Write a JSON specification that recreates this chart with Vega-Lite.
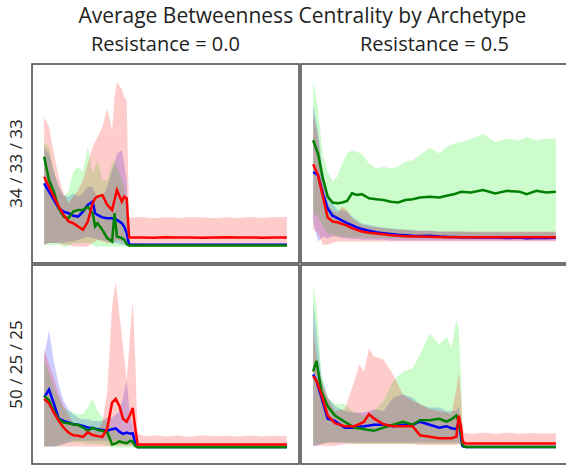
{
"$schema": "https://vega.github.io/schema/vega-lite/v6.json",
"padding": {"left": 7, "top": 6, "right": 0, "bottom": 0},
"title": {"text": "Average Betweenness Centrality by Archetype", "font": "Open Sans", "fontSize": 21, "fontWeight": "normal", "color": "#222", "anchor": "middle", "offset": 8, "dx": 14},
"datasets": {"d": [
{"r":"34 / 33 / 33","c":"Resistance = 0.0","t":0,"bm":38,"bl":1,"bh":60,"gm":54,"gl":1,"gh":63,"rm":42,"rl":1,"rh":78},
{"r":"34 / 33 / 33","c":"Resistance = 0.0","t":2,"bm":33,"bl":2,"bh":56,"gm":40,"gl":1,"gh":60,"rm":36,"rl":2,"rh":72},
{"r":"34 / 33 / 33","c":"Resistance = 0.0","t":4,"bm":28,"bl":2,"bh":45,"gm":33,"gl":1,"gh":46,"rm":30,"rl":2,"rh":56},
{"r":"34 / 33 / 33","c":"Resistance = 0.0","t":6,"bm":23,"bl":2,"bh":36,"gm":23,"gl":1,"gh":36,"rm":24,"rl":2,"rh":42},
{"r":"34 / 33 / 33","c":"Resistance = 0.0","t":8,"bm":21,"bl":2,"bh":31,"gm":18,"gl":0,"gh":30,"rm":19,"rl":1,"rh":32},
{"r":"34 / 33 / 33","c":"Resistance = 0.0","t":10,"bm":20,"bl":3,"bh":30,"gm":17,"gl":0,"gh":33,"rm":15,"rl":1,"rh":26},
{"r":"34 / 33 / 33","c":"Resistance = 0.0","t":12,"bm":18.5,"bl":3,"bh":32,"gm":21,"gl":2,"gh":45,"rm":14,"rl":0,"rh":30},
{"r":"34 / 33 / 33","c":"Resistance = 0.0","t":14,"bm":18,"bl":4,"bh":30,"gm":22,"gl":2,"gh":48,"rm":12,"rl":0,"rh":34},
{"r":"34 / 33 / 33","c":"Resistance = 0.0","t":16,"bm":21,"bl":5,"bh":32,"gm":22,"gl":2,"gh":45,"rm":10,"rl":0,"rh":40},
{"r":"34 / 33 / 33","c":"Resistance = 0.0","t":18,"bm":25,"bl":6,"bh":36,"gm":24,"gl":2,"gh":60,"rm":15,"rl":0,"rh":50},
{"r":"34 / 33 / 33","c":"Resistance = 0.0","t":20,"bm":27,"bl":5,"bh":36,"gm":20,"gl":1,"gh":44,"rm":26,"rl":2,"rh":60},
{"r":"34 / 33 / 33","c":"Resistance = 0.0","t":21,"bm":20,"bl":5,"bh":32,"gm":12,"gl":0,"gh":48,"rm":29,"rl":3,"rh":63},
{"r":"34 / 33 / 33","c":"Resistance = 0.0","t":22,"bm":19,"bl":4,"bh":30,"gm":14,"gl":0,"gh":52,"rm":30,"rl":4,"rh":66},
{"r":"34 / 33 / 33","c":"Resistance = 0.0","t":24,"bm":17.5,"bl":4,"bh":30,"gm":10,"gl":0,"gh":40,"rm":31,"rl":3,"rh":72},
{"r":"34 / 33 / 33","c":"Resistance = 0.0","t":26,"bm":17,"bl":3,"bh":36,"gm":5,"gl":0,"gh":40,"rm":25,"rl":2,"rh":83},
{"r":"34 / 33 / 33","c":"Resistance = 0.0","t":28,"bm":17,"bl":2,"bh":46,"gm":3,"gl":0,"gh":50,"rm":22,"rl":2,"rh":70},
{"r":"34 / 33 / 33","c":"Resistance = 0.0","t":29,"bm":16.5,"bl":2,"bh":50,"gm":20,"gl":0,"gh":52,"rm":28,"rl":3,"rh":90},
{"r":"34 / 33 / 33","c":"Resistance = 0.0","t":30,"bm":16,"bl":2,"bh":56,"gm":6,"gl":0,"gh":48,"rm":34,"rl":4,"rh":99},
{"r":"34 / 33 / 33","c":"Resistance = 0.0","t":32,"bm":14,"bl":1,"bh":58,"gm":5,"gl":0,"gh":40,"rm":27,"rl":3,"rh":95},
{"r":"34 / 33 / 33","c":"Resistance = 0.0","t":33,"bm":12,"bl":1,"bh":50,"gm":4,"gl":0,"gh":35,"rm":30,"rl":3,"rh":90},
{"r":"34 / 33 / 33","c":"Resistance = 0.0","t":34,"bm":8,"bl":0,"bh":40,"gm":1.5,"gl":0,"gh":25,"rm":29,"rl":3,"rh":88},
{"r":"34 / 33 / 33","c":"Resistance = 0.0","t":35,"bm":1.2,"bl":0,"bh":2,"gm":0.5,"gl":0,"gh":1,"rm":5.4,"rl":0,"rh":17.4},
{"r":"34 / 33 / 33","c":"Resistance = 0.0","t":40,"bm":1,"bl":0,"bh":1.8,"gm":0.5,"gl":0,"gh":1,"rm":5.4,"rl":0,"rh":17.8},
{"r":"34 / 33 / 33","c":"Resistance = 0.0","t":45,"bm":1,"bl":0,"bh":1.8,"gm":0.5,"gl":0,"gh":1,"rm":5.3,"rl":0,"rh":17},
{"r":"34 / 33 / 33","c":"Resistance = 0.0","t":50,"bm":1,"bl":0,"bh":1.8,"gm":0.5,"gl":0,"gh":1,"rm":5.5,"rl":0,"rh":17.6},
{"r":"34 / 33 / 33","c":"Resistance = 0.0","t":55,"bm":1,"bl":0,"bh":1.8,"gm":0.5,"gl":0,"gh":1,"rm":5.4,"rl":0,"rh":17.2},
{"r":"34 / 33 / 33","c":"Resistance = 0.0","t":60,"bm":1,"bl":0,"bh":1.8,"gm":0.5,"gl":0,"gh":1,"rm":5.4,"rl":0,"rh":17.8},
{"r":"34 / 33 / 33","c":"Resistance = 0.0","t":65,"bm":1,"bl":0,"bh":1.8,"gm":0.5,"gl":0,"gh":1,"rm":5.3,"rl":0,"rh":17.4},
{"r":"34 / 33 / 33","c":"Resistance = 0.0","t":70,"bm":1,"bl":0,"bh":1.8,"gm":0.5,"gl":0,"gh":1,"rm":5.4,"rl":0,"rh":17},
{"r":"34 / 33 / 33","c":"Resistance = 0.0","t":75,"bm":1,"bl":0,"bh":1.8,"gm":0.5,"gl":0,"gh":1,"rm":5.5,"rl":0,"rh":17.6},
{"r":"34 / 33 / 33","c":"Resistance = 0.0","t":80,"bm":1,"bl":0,"bh":1.8,"gm":0.5,"gl":0,"gh":1,"rm":5.4,"rl":0,"rh":17.2},
{"r":"34 / 33 / 33","c":"Resistance = 0.0","t":85,"bm":1,"bl":0,"bh":1.8,"gm":0.5,"gl":0,"gh":1,"rm":5.4,"rl":0,"rh":17.8},
{"r":"34 / 33 / 33","c":"Resistance = 0.0","t":90,"bm":1,"bl":0,"bh":1.8,"gm":0.5,"gl":0,"gh":1,"rm":5.3,"rl":0,"rh":17.2},
{"r":"34 / 33 / 33","c":"Resistance = 0.0","t":95,"bm":1,"bl":0,"bh":1.8,"gm":0.5,"gl":0,"gh":1,"rm":5.4,"rl":0,"rh":17.8},
{"r":"34 / 33 / 33","c":"Resistance = 0.0","t":100,"bm":1,"bl":0,"bh":1.8,"gm":0.5,"gl":0,"gh":1,"rm":5.4,"rl":0,"rh":17.6},

{"r":"34 / 33 / 33","c":"Resistance = 0.5","t":0,"bm":44.9,"bl":15,"bh":86,"gm":64,"gl":20,"gh":100,"rm":49.5,"rl":10,"rh":80},
{"r":"34 / 33 / 33","c":"Resistance = 0.5","t":2,"bm":43,"bl":3,"bh":70,"gm":56,"gl":18,"gh":83,"rm":43,"rl":8,"rh":66},
{"r":"34 / 33 / 33","c":"Resistance = 0.5","t":4,"bm":32,"bl":6,"bh":45,"gm":41,"gl":12,"gh":55,"rm":30.2,"rl":1,"rh":40},
{"r":"34 / 33 / 33","c":"Resistance = 0.5","t":6,"bm":22.9,"bl":5,"bh":32,"gm":30,"gl":8,"gh":45,"rm":17.4,"rl":1,"rh":26},
{"r":"34 / 33 / 33","c":"Resistance = 0.5","t":8,"bm":18.5,"bl":6,"bh":26,"gm":26.5,"gl":7,"gh":39.5,"rm":15,"rl":2,"rh":22},
{"r":"34 / 33 / 33","c":"Resistance = 0.5","t":10,"bm":17,"bl":6,"bh":22,"gm":26,"gl":6,"gh":42,"rm":14.6,"rl":3,"rh":20},
{"r":"34 / 33 / 33","c":"Resistance = 0.5","t":12,"bm":15.5,"bl":5,"bh":22,"gm":26.5,"gl":6,"gh":50,"rm":13.5,"rl":3,"rh":24},
{"r":"34 / 33 / 33","c":"Resistance = 0.5","t":14,"bm":14,"bl":5,"bh":21,"gm":27.4,"gl":5.5,"gh":56,"rm":12.5,"rl":3,"rh":22},
{"r":"34 / 33 / 33","c":"Resistance = 0.5","t":16,"bm":12.8,"bl":4.5,"bh":18,"gm":32,"gl":5.5,"gh":58,"rm":11,"rl":3,"rh":17},
{"r":"34 / 33 / 33","c":"Resistance = 0.5","t":18,"bm":11.5,"bl":4.5,"bh":16,"gm":31,"gl":5.5,"gh":57,"rm":10,"rl":3,"rh":15},
{"r":"34 / 33 / 33","c":"Resistance = 0.5","t":20,"bm":10.5,"bl":4,"bh":14,"gm":31.5,"gl":5.5,"gh":56,"rm":9,"rl":3,"rh":13},
{"r":"34 / 33 / 33","c":"Resistance = 0.5","t":23,"bm":9.5,"bl":4,"bh":13,"gm":29,"gl":5,"gh":50,"rm":8.2,"rl":3,"rh":12},
{"r":"34 / 33 / 33","c":"Resistance = 0.5","t":26,"bm":8.5,"bl":4,"bh":12,"gm":28.5,"gl":5,"gh":47,"rm":7.8,"rl":3,"rh":11.5},
{"r":"34 / 33 / 33","c":"Resistance = 0.5","t":29,"bm":8,"bl":4,"bh":11.5,"gm":28,"gl":5,"gh":48,"rm":7.3,"rl":3,"rh":11},
{"r":"34 / 33 / 33","c":"Resistance = 0.5","t":32,"bm":7.5,"bl":3.5,"bh":11,"gm":27,"gl":5,"gh":47,"rm":6.8,"rl":3,"rh":10.5},
{"r":"34 / 33 / 33","c":"Resistance = 0.5","t":35,"bm":7,"bl":3.5,"bh":10.5,"gm":26.5,"gl":5,"gh":48,"rm":6.4,"rl":3,"rh":10},
{"r":"34 / 33 / 33","c":"Resistance = 0.5","t":38,"bm":6.8,"bl":3.5,"bh":10,"gm":28,"gl":5,"gh":51,"rm":6.2,"rl":3,"rh":10},
{"r":"34 / 33 / 33","c":"Resistance = 0.5","t":41,"bm":6.4,"bl":3.5,"bh":10,"gm":28.5,"gl":5,"gh":52,"rm":6,"rl":3,"rh":9.5},
{"r":"34 / 33 / 33","c":"Resistance = 0.5","t":44,"bm":6.3,"bl":3.5,"bh":9.5,"gm":29.5,"gl":5,"gh":55,"rm":6,"rl":3,"rh":9.5},
{"r":"34 / 33 / 33","c":"Resistance = 0.5","t":48,"bm":6.4,"bl":3.5,"bh":9.5,"gm":30,"gl":5,"gh":59.5,"rm":5.8,"rl":3,"rh":9.5},
{"r":"34 / 33 / 33","c":"Resistance = 0.5","t":52,"bm":6,"bl":3.5,"bh":9,"gm":29.5,"gl":5,"gh":56,"rm":5.7,"rl":3,"rh":9},
{"r":"34 / 33 / 33","c":"Resistance = 0.5","t":55,"bm":5.8,"bl":3.5,"bh":9,"gm":30.5,"gl":5,"gh":60,"rm":5.6,"rl":3,"rh":9},
{"r":"34 / 33 / 33","c":"Resistance = 0.5","t":58,"bm":5.7,"bl":3.5,"bh":9,"gm":31.5,"gl":5,"gh":62,"rm":5.5,"rl":3,"rh":9},
{"r":"34 / 33 / 33","c":"Resistance = 0.5","t":61,"bm":5.5,"bl":3.5,"bh":9,"gm":32.9,"gl":5,"gh":63,"rm":5.5,"rl":3,"rh":9},
{"r":"34 / 33 / 33","c":"Resistance = 0.5","t":65,"bm":5.6,"bl":3.5,"bh":8.5,"gm":32.5,"gl":5,"gh":65,"rm":5.5,"rl":3,"rh":9},
{"r":"34 / 33 / 33","c":"Resistance = 0.5","t":70,"bm":5.4,"bl":3.5,"bh":8.5,"gm":34,"gl":5,"gh":67.8,"rm":5.5,"rl":3,"rh":9},
{"r":"34 / 33 / 33","c":"Resistance = 0.5","t":75,"bm":5.5,"bl":3.5,"bh":8.5,"gm":32,"gl":5,"gh":63,"rm":5.5,"rl":3,"rh":9},
{"r":"34 / 33 / 33","c":"Resistance = 0.5","t":80,"bm":5.1,"bl":3.5,"bh":8.5,"gm":33.5,"gl":5,"gh":65,"rm":5.5,"rl":3,"rh":9},
{"r":"34 / 33 / 33","c":"Resistance = 0.5","t":85,"bm":5.4,"bl":3.5,"bh":8.5,"gm":33,"gl":5,"gh":64,"rm":5.5,"rl":3,"rh":9},
{"r":"34 / 33 / 33","c":"Resistance = 0.5","t":88,"bm":5,"bl":3.5,"bh":8.5,"gm":31.5,"gl":5,"gh":66,"rm":5.5,"rl":3,"rh":9},
{"r":"34 / 33 / 33","c":"Resistance = 0.5","t":92,"bm":5.3,"bl":3.5,"bh":8.5,"gm":33.5,"gl":5,"gh":64,"rm":5.5,"rl":3,"rh":9},
{"r":"34 / 33 / 33","c":"Resistance = 0.5","t":96,"bm":5.1,"bl":3.5,"bh":8.5,"gm":32.5,"gl":5,"gh":65,"rm":5.5,"rl":3,"rh":9},
{"r":"34 / 33 / 33","c":"Resistance = 0.5","t":100,"bm":5.3,"bl":3.5,"bh":8.5,"gm":33,"gl":5,"gh":65,"rm":5.5,"rl":3,"rh":9},

{"r":"50 / 25 / 25","c":"Resistance = 0.0","t":0,"bm":30.2,"bl":0.5,"bh":55,"gm":31,"gl":0.5,"gh":52,"rm":29.3,"rl":0.5,"rh":59.5},
{"r":"50 / 25 / 25","c":"Resistance = 0.0","t":2,"bm":34.8,"bl":0.5,"bh":70.5,"gm":28.4,"gl":0.5,"gh":45,"rm":26.5,"rl":0.5,"rh":50},
{"r":"50 / 25 / 25","c":"Resistance = 0.0","t":4,"bm":26.5,"bl":0.5,"bh":52,"gm":22,"gl":0.5,"gh":36,"rm":21,"rl":0.5,"rh":42},
{"r":"50 / 25 / 25","c":"Resistance = 0.0","t":6,"bm":17.3,"bl":1,"bh":38,"gm":17,"gl":1,"gh":30,"rm":16,"rl":0.5,"rh":32},
{"r":"50 / 25 / 25","c":"Resistance = 0.0","t":8,"bm":16,"bl":2,"bh":28,"gm":15,"gl":2,"gh":24,"rm":12,"rl":0.5,"rh":25},
{"r":"50 / 25 / 25","c":"Resistance = 0.0","t":10,"bm":15,"bl":3,"bh":23,"gm":14.6,"gl":3,"gh":22,"rm":9,"rl":0.5,"rh":20},
{"r":"50 / 25 / 25","c":"Resistance = 0.0","t":12,"bm":14,"bl":4,"bh":20,"gm":14,"gl":3,"gh":21,"rm":7.3,"rl":0.5,"rh":14},
{"r":"50 / 25 / 25","c":"Resistance = 0.0","t":14,"bm":13.7,"bl":4,"bh":18,"gm":13.5,"gl":3,"gh":20,"rm":7,"rl":0.5,"rh":12.8},
{"r":"50 / 25 / 25","c":"Resistance = 0.0","t":16,"bm":13,"bl":4,"bh":17,"gm":12,"gl":3,"gh":20,"rm":6.4,"rl":0.5,"rh":10},
{"r":"50 / 25 / 25","c":"Resistance = 0.0","t":18,"bm":12,"bl":4,"bh":17,"gm":10,"gl":2,"gh":24,"rm":9.1,"rl":0.5,"rh":12},
{"r":"50 / 25 / 25","c":"Resistance = 0.0","t":20,"bm":11.5,"bl":4,"bh":16,"gm":11.9,"gl":2,"gh":29.3,"rm":7.5,"rl":0.5,"rh":10},
{"r":"50 / 25 / 25","c":"Resistance = 0.0","t":22,"bm":11,"bl":4,"bh":16,"gm":10.5,"gl":2,"gh":22,"rm":6.8,"rl":0.5,"rh":10},
{"r":"50 / 25 / 25","c":"Resistance = 0.0","t":24,"bm":10.5,"bl":4,"bh":16,"gm":10,"gl":2,"gh":18,"rm":6.4,"rl":0.5,"rh":15},
{"r":"50 / 25 / 25","c":"Resistance = 0.0","t":26,"bm":10,"bl":4,"bh":18,"gm":9.1,"gl":1,"gh":15,"rm":11.5,"rl":0.5,"rh":34},
{"r":"50 / 25 / 25","c":"Resistance = 0.0","t":28,"bm":11,"bl":4,"bh":18,"gm":1.8,"gl":0,"gh":12,"rm":27,"rl":1,"rh":85},
{"r":"50 / 25 / 25","c":"Resistance = 0.0","t":29.5,"bm":11.5,"bl":4,"bh":20,"gm":2.5,"gl":0,"gh":10,"rm":29.3,"rl":1,"rh":99.9},
{"r":"50 / 25 / 25","c":"Resistance = 0.0","t":31,"bm":9.5,"bl":3,"bh":22,"gm":3.6,"gl":0,"gh":9,"rm":25,"rl":1,"rh":80},
{"r":"50 / 25 / 25","c":"Resistance = 0.0","t":32.5,"bm":8.2,"bl":3,"bh":30,"gm":3,"gl":0,"gh":8,"rm":17.3,"rl":1,"rh":61},
{"r":"50 / 25 / 25","c":"Resistance = 0.0","t":34,"bm":9,"bl":3,"bh":40.4,"gm":2.5,"gl":0,"gh":8,"rm":15.5,"rl":1,"rh":40},
{"r":"50 / 25 / 25","c":"Resistance = 0.0","t":35.5,"bm":8.2,"bl":2,"bh":18,"gm":4,"gl":0,"gh":7,"rm":20,"rl":1,"rh":70},
{"r":"50 / 25 / 25","c":"Resistance = 0.0","t":36.5,"bm":8.5,"bl":2,"bh":14,"gm":3.5,"gl":0,"gh":6,"rm":23.8,"rl":1,"rh":89},
{"r":"50 / 25 / 25","c":"Resistance = 0.0","t":37.5,"bm":3,"bl":0,"bh":6,"gm":1,"gl":0,"gh":2,"rm":12,"rl":0.5,"rh":55},
{"r":"50 / 25 / 25","c":"Resistance = 0.0","t":38.5,"bm":0.2,"bl":0,"bh":0.4,"gm":0.1,"gl":0,"gh":0.3,"rm":1.8,"rl":0,"rh":8.2},
{"r":"50 / 25 / 25","c":"Resistance = 0.0","t":42,"bm":0.2,"bl":0,"bh":0.4,"gm":0.1,"gl":0,"gh":0.3,"rm":1.8,"rl":0,"rh":6.8},
{"r":"50 / 25 / 25","c":"Resistance = 0.0","t":46,"bm":0.2,"bl":0,"bh":0.4,"gm":0.1,"gl":0,"gh":0.3,"rm":1.8,"rl":0,"rh":7.3},
{"r":"50 / 25 / 25","c":"Resistance = 0.0","t":50,"bm":0.2,"bl":0,"bh":0.4,"gm":0.1,"gl":0,"gh":0.3,"rm":1.8,"rl":0,"rh":6.6},
{"r":"50 / 25 / 25","c":"Resistance = 0.0","t":55,"bm":0.2,"bl":0,"bh":0.4,"gm":0.1,"gl":0,"gh":0.3,"rm":1.8,"rl":0,"rh":7.2},
{"r":"50 / 25 / 25","c":"Resistance = 0.0","t":60,"bm":0.2,"bl":0,"bh":0.4,"gm":0.1,"gl":0,"gh":0.3,"rm":1.8,"rl":0,"rh":6.5},
{"r":"50 / 25 / 25","c":"Resistance = 0.0","t":65,"bm":0.2,"bl":0,"bh":0.4,"gm":0.1,"gl":0,"gh":0.3,"rm":1.8,"rl":0,"rh":7.3},
{"r":"50 / 25 / 25","c":"Resistance = 0.0","t":70,"bm":0.2,"bl":0,"bh":0.4,"gm":0.1,"gl":0,"gh":0.3,"rm":1.8,"rl":0,"rh":6.7},
{"r":"50 / 25 / 25","c":"Resistance = 0.0","t":75,"bm":0.2,"bl":0,"bh":0.4,"gm":0.1,"gl":0,"gh":0.3,"rm":1.8,"rl":0,"rh":7},
{"r":"50 / 25 / 25","c":"Resistance = 0.0","t":80,"bm":0.2,"bl":0,"bh":0.4,"gm":0.1,"gl":0,"gh":0.3,"rm":1.8,"rl":0,"rh":6.6},
{"r":"50 / 25 / 25","c":"Resistance = 0.0","t":85,"bm":0.2,"bl":0,"bh":0.4,"gm":0.1,"gl":0,"gh":0.3,"rm":1.8,"rl":0,"rh":7.2},
{"r":"50 / 25 / 25","c":"Resistance = 0.0","t":90,"bm":0.2,"bl":0,"bh":0.4,"gm":0.1,"gl":0,"gh":0.3,"rm":1.8,"rl":0,"rh":6.6},
{"r":"50 / 25 / 25","c":"Resistance = 0.0","t":95,"bm":0.2,"bl":0,"bh":0.4,"gm":0.1,"gl":0,"gh":0.3,"rm":1.8,"rl":0,"rh":7.1},
{"r":"50 / 25 / 25","c":"Resistance = 0.0","t":100,"bm":0.2,"bl":0,"bh":0.4,"gm":0.1,"gl":0,"gh":0.3,"rm":1.8,"rl":0,"rh":6.8},

{"r":"50 / 25 / 25","c":"Resistance = 0.5","t":0,"bm":44,"bl":0.9,"bh":87,"gm":45.8,"gl":1,"gh":98,"rm":43,"rl":1,"rh":70.5},
{"r":"50 / 25 / 25","c":"Resistance = 0.5","t":1.4,"bm":40,"bl":1,"bh":70,"gm":52.2,"gl":2,"gh":85,"rm":40,"rl":1,"rh":55},
{"r":"50 / 25 / 25","c":"Resistance = 0.5","t":3.4,"bm":30.2,"bl":2,"bh":42,"gm":33.9,"gl":2,"gh":45,"rm":32,"rl":1,"rh":40},
{"r":"50 / 25 / 25","c":"Resistance = 0.5","t":6,"bm":17.3,"bl":3,"bh":30,"gm":24.8,"gl":3,"gh":30,"rm":19.2,"rl":1,"rh":30},
{"r":"50 / 25 / 25","c":"Resistance = 0.5","t":9,"bm":16,"bl":3,"bh":25,"gm":19.2,"gl":3,"gh":26.5,"rm":14.6,"rl":1,"rh":22},
{"r":"50 / 25 / 25","c":"Resistance = 0.5","t":13,"bm":11.9,"bl":3,"bh":22,"gm":15.5,"gl":3,"gh":26,"rm":12.8,"rl":2,"rh":23},
{"r":"50 / 25 / 25","c":"Resistance = 0.5","t":17,"bm":11.9,"bl":3,"bh":21,"gm":11.9,"gl":2,"gh":21,"rm":12.8,"rl":2,"rh":40},
{"r":"50 / 25 / 25","c":"Resistance = 0.5","t":19,"bm":12.5,"bl":3,"bh":21,"gm":11.5,"gl":2,"gh":20,"rm":14,"rl":2,"rh":50},
{"r":"50 / 25 / 25","c":"Resistance = 0.5","t":21,"bm":12.8,"bl":3,"bh":21,"gm":11,"gl":2,"gh":19,"rm":15.5,"rl":2,"rh":45.8},
{"r":"50 / 25 / 25","c":"Resistance = 0.5","t":23,"bm":13.2,"bl":3,"bh":22,"gm":10.5,"gl":2,"gh":20,"rm":20.1,"rl":2,"rh":59.5},
{"r":"50 / 25 / 25","c":"Resistance = 0.5","t":25,"bm":13.7,"bl":3,"bh":23,"gm":10,"gl":2,"gh":22,"rm":17.5,"rl":2,"rh":55},
{"r":"50 / 25 / 25","c":"Resistance = 0.5","t":29,"bm":13.7,"bl":3,"bh":22,"gm":11.9,"gl":2,"gh":28,"rm":14,"rl":2,"rh":53},
{"r":"50 / 25 / 25","c":"Resistance = 0.5","t":33,"bm":12.8,"bl":3,"bh":30,"gm":13.7,"gl":2,"gh":40,"rm":12.8,"rl":2,"rh":43.8},
{"r":"50 / 25 / 25","c":"Resistance = 0.5","t":37,"bm":13.7,"bl":3,"bh":32,"gm":15.5,"gl":2,"gh":45.8,"rm":12.8,"rl":2,"rh":32},
{"r":"50 / 25 / 25","c":"Resistance = 0.5","t":41,"bm":13.7,"bl":3,"bh":30,"gm":13.7,"gl":2,"gh":47.7,"rm":12.8,"rl":2,"rh":28},
{"r":"50 / 25 / 25","c":"Resistance = 0.5","t":44,"bm":15.5,"bl":3,"bh":26,"gm":16.4,"gl":2,"gh":55.9,"rm":7.3,"rl":1.5,"rh":26},
{"r":"50 / 25 / 25","c":"Resistance = 0.5","t":48,"bm":13.7,"bl":3,"bh":24,"gm":16.4,"gl":2,"gh":68.7,"rm":6.4,"rl":1.5,"rh":23},
{"r":"50 / 25 / 25","c":"Resistance = 0.5","t":52,"bm":11.9,"bl":3,"bh":24,"gm":17.3,"gl":2,"gh":62,"rm":5.5,"rl":1.5,"rh":22},
{"r":"50 / 25 / 25","c":"Resistance = 0.5","t":55,"bm":12.8,"bl":3,"bh":22,"gm":15.5,"gl":2,"gh":66.8,"rm":5.5,"rl":1.5,"rh":21},
{"r":"50 / 25 / 25","c":"Resistance = 0.5","t":57,"bm":11.5,"bl":3,"bh":22,"gm":17,"gl":2,"gh":60,"rm":5.5,"rl":1.5,"rh":20},
{"r":"50 / 25 / 25","c":"Resistance = 0.5","t":59,"bm":11,"bl":3,"bh":22,"gm":19.2,"gl":2,"gh":77,"rm":6.4,"rl":1.5,"rh":35},
{"r":"50 / 25 / 25","c":"Resistance = 0.5","t":60,"bm":15.5,"bl":3,"bh":25,"gm":15.5,"gl":2,"gh":72,"rm":19.2,"rl":2,"rh":45},
{"r":"50 / 25 / 25","c":"Resistance = 0.5","t":61,"bm":6,"bl":1,"bh":10,"gm":8,"gl":1,"gh":40,"rm":11.9,"rl":1,"rh":30},
{"r":"50 / 25 / 25","c":"Resistance = 0.5","t":61.5,"bm":0.9,"bl":0,"bh":1.5,"gm":2,"gl":0,"gh":5,"rm":5,"rl":0.5,"rh":15},
{"r":"50 / 25 / 25","c":"Resistance = 0.5","t":62,"bm":0.5,"bl":0,"bh":0.6,"gm":0.9,"gl":0,"gh":1,"rm":2.7,"rl":0.5,"rh":9},
{"r":"50 / 25 / 25","c":"Resistance = 0.5","t":63,"bm":0.3,"bl":0,"bh":0.6,"gm":0.3,"gl":0,"gh":0.5,"rm":2.4,"rl":0.5,"rh":8.5},
{"r":"50 / 25 / 25","c":"Resistance = 0.5","t":66,"bm":0.3,"bl":0,"bh":0.6,"gm":0.2,"gl":0,"gh":0.4,"rm":2.4,"rl":0.5,"rh":8.2},
{"r":"50 / 25 / 25","c":"Resistance = 0.5","t":70,"bm":0.3,"bl":0,"bh":0.6,"gm":0.2,"gl":0,"gh":0.4,"rm":2.4,"rl":0.5,"rh":8.8},
{"r":"50 / 25 / 25","c":"Resistance = 0.5","t":75,"bm":0.3,"bl":0,"bh":0.6,"gm":0.2,"gl":0,"gh":0.4,"rm":2.4,"rl":0.5,"rh":8.1},
{"r":"50 / 25 / 25","c":"Resistance = 0.5","t":80,"bm":0.3,"bl":0,"bh":0.6,"gm":0.2,"gl":0,"gh":0.4,"rm":2.4,"rl":0.5,"rh":8.9},
{"r":"50 / 25 / 25","c":"Resistance = 0.5","t":85,"bm":0.3,"bl":0,"bh":0.6,"gm":0.2,"gl":0,"gh":0.4,"rm":2.4,"rl":0.5,"rh":8.3},
{"r":"50 / 25 / 25","c":"Resistance = 0.5","t":90,"bm":0.3,"bl":0,"bh":0.6,"gm":0.2,"gl":0,"gh":0.4,"rm":2.4,"rl":0.5,"rh":8.7},
{"r":"50 / 25 / 25","c":"Resistance = 0.5","t":95,"bm":0.3,"bl":0,"bh":0.6,"gm":0.2,"gl":0,"gh":0.4,"rm":2.4,"rl":0.5,"rh":8.2},
{"r":"50 / 25 / 25","c":"Resistance = 0.5","t":100,"bm":0.3,"bl":0,"bh":0.6,"gm":0.2,"gl":0,"gh":0.4,"rm":2.4,"rl":0.5,"rh":8.6}
]},
"data": {"name": "d"},
"facet": {
  "column": {"field": "c", "type": "nominal", "header": {"title": null, "labelFont": "Open Sans", "labelFontSize": 20, "labelColor": "#222", "labelPadding": 8}},
  "row": {"field": "r", "type": "nominal", "header": {"title": null, "labelFont": "Open Sans", "labelFontSize": 17, "labelColor": "#222", "labelAngle": -90, "labelOrient": "left", "labelPadding": -3}}
},
"spacing": 0,
"spec": {
  "width": 267,
  "height": 199,
  "encoding": {"x": {"field": "t", "type": "quantitative", "scale": {"domain": [-5, 105]}, "axis": null}},
  "layer": [
    {"mark": {"type": "area", "color": "#0000ff", "opacity": 0.2}, "encoding": {"y": {"field": "bl", "type": "quantitative", "scale": {"domain": [-5, 105]}, "axis": null}, "y2": {"field": "bh"}}},
    {"mark": {"type": "area", "color": "#00ee00", "opacity": 0.2}, "encoding": {"y": {"field": "gl", "type": "quantitative"}, "y2": {"field": "gh"}}},
    {"mark": {"type": "area", "color": "#ff0000", "opacity": 0.2}, "encoding": {"y": {"field": "rl", "type": "quantitative"}, "y2": {"field": "rh"}}},
    {"mark": {"type": "line", "color": "#0000ff", "strokeWidth": 2.5}, "encoding": {"y": {"field": "bm", "type": "quantitative"}}},
    {"mark": {"type": "line", "color": "#008000", "strokeWidth": 2.5}, "encoding": {"y": {"field": "gm", "type": "quantitative"}}},
    {"mark": {"type": "line", "color": "#ff0000", "strokeWidth": 2.5}, "encoding": {"y": {"field": "rm", "type": "quantitative"}}}
  ]
},
"config": {"view": {"stroke": "#444", "strokeWidth": 1.5}}
}
